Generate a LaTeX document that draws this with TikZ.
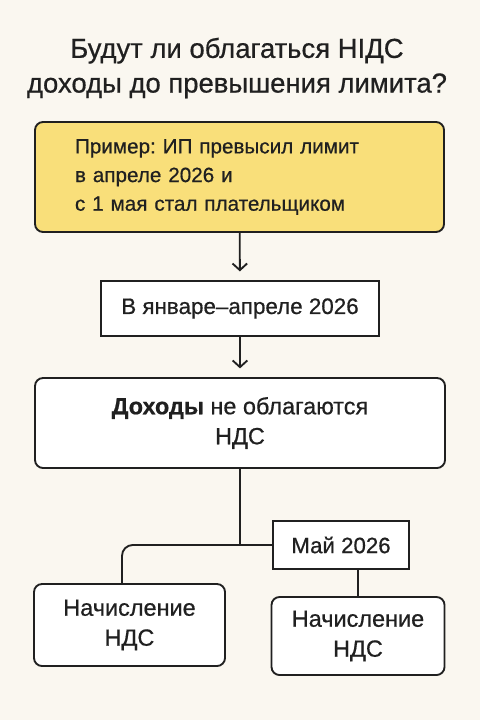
\documentclass[tikz,border=0pt]{standalone}
\usepackage{fontspec}
\setmainfont{Liberation Sans}[FakeBold=0.6]
\usetikzlibrary{arrows.meta}
\definecolor{paper}{HTML}{FAF7F0}
\definecolor{note}{HTML}{F9DF7A}
\definecolor{ink}{HTML}{202020}
\frenchspacing
\begin{document}
\begin{tikzpicture}[x=0.75pt, y=-0.75pt,
    every node/.style={font=\fontsize{17.6}{22.5}\selectfont, text=ink},
    box/.style={draw=ink, line width=1.4pt, fill=white, rounded corners=6pt, inner sep=0pt, align=center},
    flat/.style={box, sharp corners},
    link/.style={draw=ink, line width=1.4pt},
    arrow/.style={link, -{Straight Barb[length=5pt, width=11pt]}, shorten >=6.5pt}]
  \fill[paper] (0,0) rectangle (480,720);
  \useasboundingbox (0,0) rectangle (480,720);
  % title
  \node (title) at (237,68) [align=center, font=\fontsize{20.6}{26}\selectfont]
    {Будут ли облагаться НІДС\\доходы до превышения лимита?};
  % example
  \node (example) at (239.5,177) [box, fill=note, minimum width=306.75pt, minimum height=82.5pt,
    text width=246.75pt, align=left, font=\fontsize{15.5}{21.5}\selectfont]
    {Пример: ИП превысил лимит\\в апреле 2026 и\\с 1 мая стал плательщиком};
  \node (months) at (240,308.5) [flat, minimum width=208.5pt, minimum height=41.25pt,
    font=\fontsize{16.8}{20}\selectfont] {В январе–апреле 2026};
  \node (income) at (240,423) [box, minimum width=307.5pt, minimum height=67.5pt]
    {\textbf{Доходы} не облагаются\\НДС};
  \node (may) at (341,545) [flat, minimum width=102pt, minimum height=36pt,
    font=\fontsize{16.7}{20}\selectfont] {Май 2026};
  \node (left) at (129.5,625) [box, minimum width=143.25pt, minimum height=61.5pt]
    {Начисление\\НДС};
  \node (right) at (358,636) [box, minimum width=129.75pt, minimum height=58.5pt]
    {Начисление\\НДС};
  % connectors
  \draw[arrow] (example) -- (months);
  \draw[arrow] (months) -- (income);
  \coordinate (split) at (240,545);
  \draw[link] (income) -- (split);
  \draw[link, rounded corners=8pt] (may.west) -- ([xshift=-5.6pt]left.north |- may.west)
    -- ([xshift=-5.6pt]left.north);
  \draw[link] (may.south -| right.north) -- (right.north);
\end{tikzpicture}
\end{document}
